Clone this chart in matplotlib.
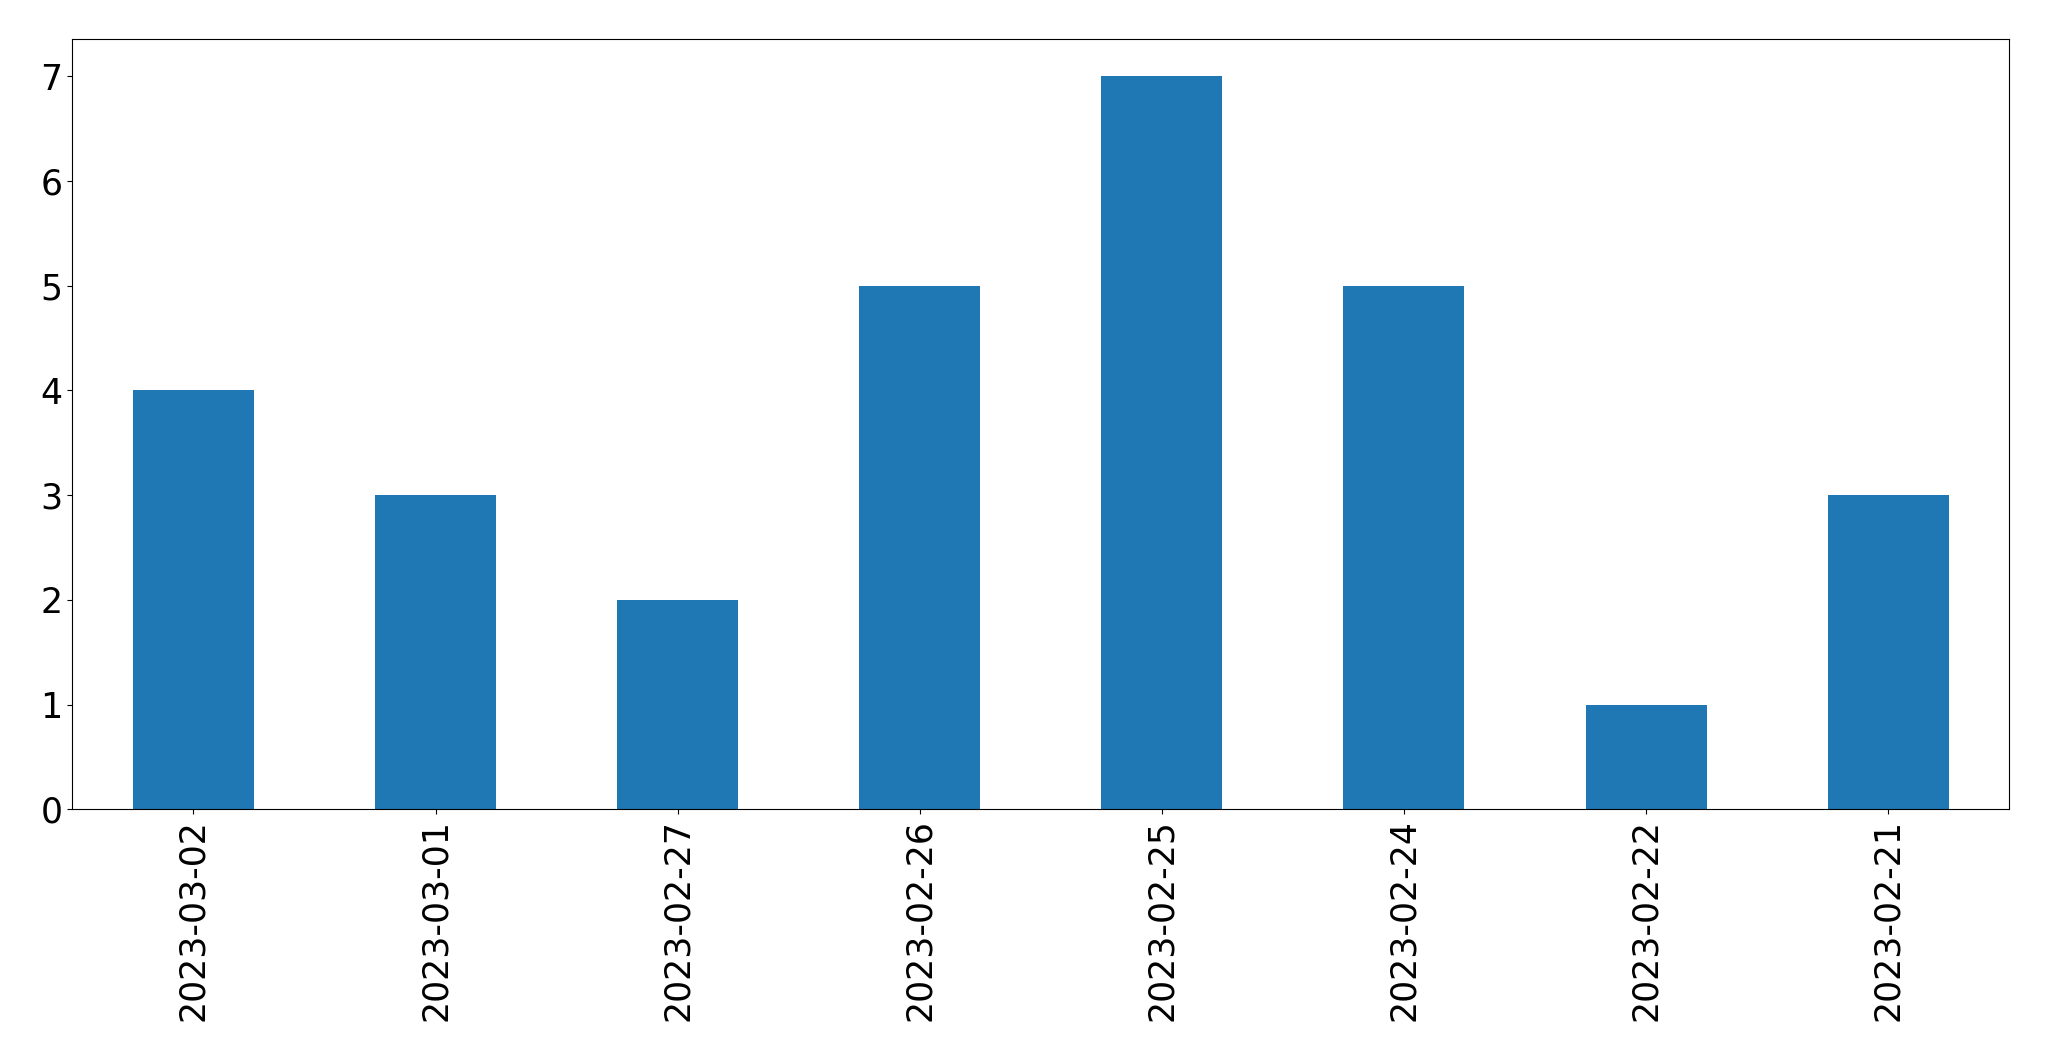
import pandas as pd
import matplotlib
matplotlib.use('Agg')
import matplotlib.pyplot as plt

# Counts per day
dates = ['2023-03-02', '2023-03-01', '2023-02-27', '2023-02-26',
         '2023-02-25', '2023-02-24', '2023-02-22', '2023-02-21']
counts = [4, 3, 2, 5, 7, 5, 1, 3]

s = pd.Series(counts, index=dates)

fig = plt.figure(figsize=(20.49, 10.61), dpi=100)
ax = fig.add_axes([0.0353, 0.2372, 0.9453, 0.7257])
s.plot(kind='bar', ax=ax, color='#1f77b4')

ax.tick_params(axis='both', labelsize=25)
plt.xticks(rotation=90)

fig.savefig('out.png', dpi=100)
